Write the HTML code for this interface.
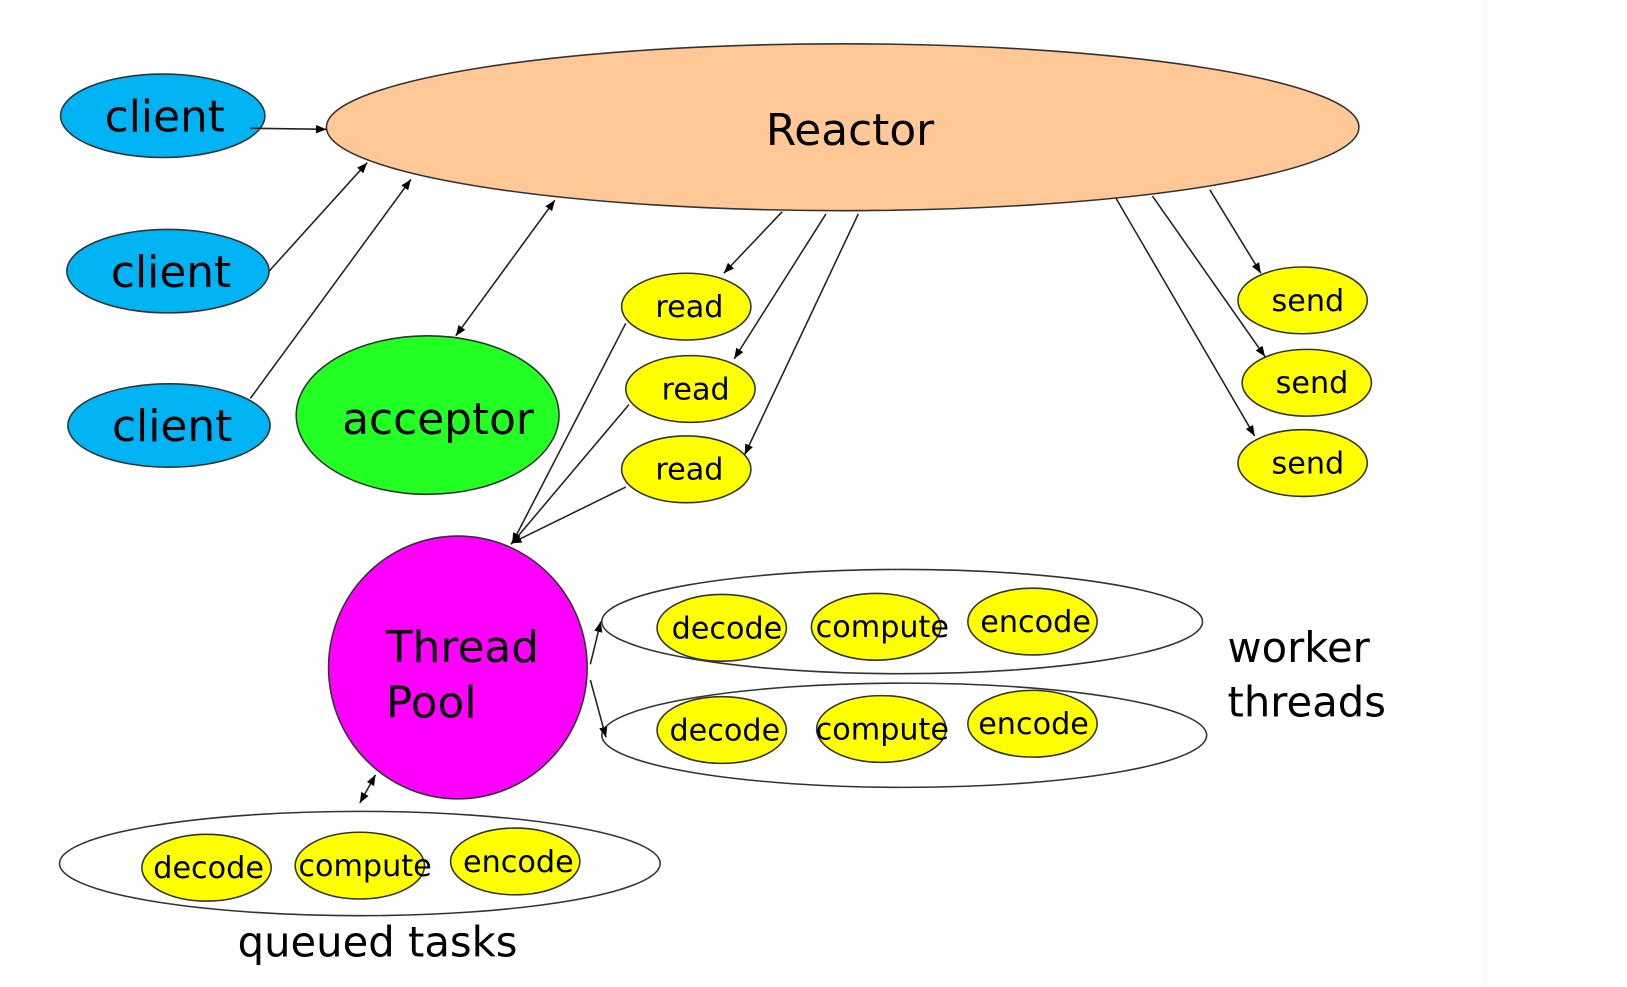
<!DOCTYPE html>
<html><head><meta charset="utf-8"><style>
html,body{margin:0;padding:0;background:#fff;width:1627px;height:987px;overflow:hidden}
svg{display:block}
text{font-family:"DejaVu Sans","Liberation Sans",sans-serif;fill:#000}
</style></head><body>
<svg width="1627" height="987" viewBox="0 0 1560 946.4" xmlns="http://www.w3.org/2000/svg">
<defs>
<marker id="a" viewBox="0 0 10 10" refX="10" refY="5" markerWidth="10" markerHeight="10" markerUnits="userSpaceOnUse" orient="auto-start-reverse"><path d="M0,1 L10,5 L0,9 z" fill="#000"/></marker>
</defs>
<rect x="1420" y="0" width="140" height="947" fill="#fdfdfd"/>
<g stroke="#333" stroke-width="1.5">
<ellipse cx="808" cy="122" rx="495" ry="80" fill="#ffc896"/>
<ellipse cx="156" cy="111" rx="98" ry="40" fill="#00b4f4"/>
<ellipse cx="161" cy="260" rx="97" ry="40" fill="#00b4f4"/>
<ellipse cx="162" cy="408" rx="97" ry="40" fill="#00b4f4"/>
<ellipse cx="410" cy="398" rx="126" ry="76" fill="#22ff22"/>
<ellipse cx="658" cy="294" rx="62" ry="32" fill="#ffff00"/>
<ellipse cx="662" cy="373" rx="62" ry="32" fill="#ffff00"/>
<ellipse cx="658" cy="450" rx="62" ry="32" fill="#ffff00"/>
<ellipse cx="1249" cy="288" rx="62" ry="32" fill="#ffff00"/>
<ellipse cx="1253" cy="367" rx="62" ry="32" fill="#ffff00"/>
<ellipse cx="1249" cy="444" rx="62" ry="32" fill="#ffff00"/>
<ellipse cx="439" cy="640" rx="124" ry="126" fill="#ff00ff"/>
<ellipse cx="865" cy="596" rx="288" ry="50" fill="none"/>
<ellipse cx="867" cy="705" rx="290" ry="50" fill="none"/>
<ellipse cx="345" cy="828" rx="288" ry="50" fill="none"/>
<ellipse cx="692" cy="602" rx="62" ry="32" fill="#ffff00"/>
<ellipse cx="840" cy="601" rx="62" ry="32" fill="#ffff00"/>
<ellipse cx="990" cy="596" rx="62" ry="32" fill="#ffff00"/>
<ellipse cx="692" cy="700" rx="62" ry="32" fill="#ffff00"/>
<ellipse cx="845" cy="699" rx="62" ry="32" fill="#ffff00"/>
<ellipse cx="990" cy="694" rx="62" ry="32" fill="#ffff00"/>
<ellipse cx="198" cy="832" rx="62" ry="32" fill="#ffff00"/>
<ellipse cx="345" cy="830" rx="62" ry="32" fill="#ffff00"/>
<ellipse cx="494" cy="826" rx="62" ry="32" fill="#ffff00"/>
</g>
<g stroke="#222" stroke-width="1.5" fill="none">
<line x1="240" y1="123" x2="313" y2="124" marker-end="url(#a)"/>
<line x1="258" y1="260" x2="352" y2="156" marker-end="url(#a)"/>
<line x1="240" y1="382" x2="394" y2="172" marker-end="url(#a)"/>
<line x1="437" y1="322" x2="532" y2="192" marker-start="url(#a)" marker-end="url(#a)"/>
<line x1="750" y1="203" x2="694" y2="262" marker-end="url(#a)"/>
<line x1="792" y1="205" x2="704" y2="344" marker-end="url(#a)"/>
<line x1="823" y1="205" x2="714" y2="436" marker-end="url(#a)"/>
<line x1="600" y1="310" x2="491" y2="521" marker-end="url(#a)"/>
<line x1="603" y1="388" x2="490" y2="522" marker-end="url(#a)"/>
<line x1="600" y1="467" x2="490" y2="521" marker-end="url(#a)"/>
<line x1="1160" y1="182" x2="1209" y2="262" marker-end="url(#a)"/>
<line x1="1105" y1="188" x2="1213" y2="342" marker-end="url(#a)"/>
<line x1="1070" y1="190" x2="1203" y2="418" marker-end="url(#a)"/>
<line x1="566" y1="637" x2="576" y2="596" marker-end="url(#a)"/>
<line x1="566" y1="652" x2="581" y2="707" marker-end="url(#a)"/>
<line x1="345" y1="770" x2="360" y2="743" marker-start="url(#a)" marker-end="url(#a)"/>
</g>
<text x="815" y="139" font-size="42" text-anchor="middle">Reactor</text>
<g font-size="42" text-anchor="middle">
<text x="158" y="126">client</text>
<text x="164" y="275">client</text>
<text x="165" y="423">client</text>
</g>
<text x="420" y="416" font-size="42" text-anchor="middle">acceptor</text>
<g font-size="29" text-anchor="middle">
<text x="661" y="304">read</text>
<text x="667" y="383">read</text>
<text x="661" y="460">read</text>
<text x="1254" y="298">send</text>
<text x="1258" y="377">send</text>
<text x="1254" y="454">send</text>
<text x="697" y="612">decode</text>
<text x="846" y="611">compute</text>
<text x="993" y="606">encode</text>
<text x="695" y="710">decode</text>
<text x="846" y="709">compute</text>
<text x="991" y="704">encode</text>
<text x="200" y="842">decode</text>
<text x="350" y="840">compute</text>
<text x="497" y="836">encode</text>
</g>
<text x="370" y="635" font-size="42">Thread</text>
<text x="370" y="688" font-size="42">Pool</text>
<text x="1177" y="635" font-size="40">worker</text>
<text x="1177" y="687" font-size="40">threads</text>
<text x="362" y="917" font-size="40" text-anchor="middle">queued tasks</text>
</svg>
</body></html>
